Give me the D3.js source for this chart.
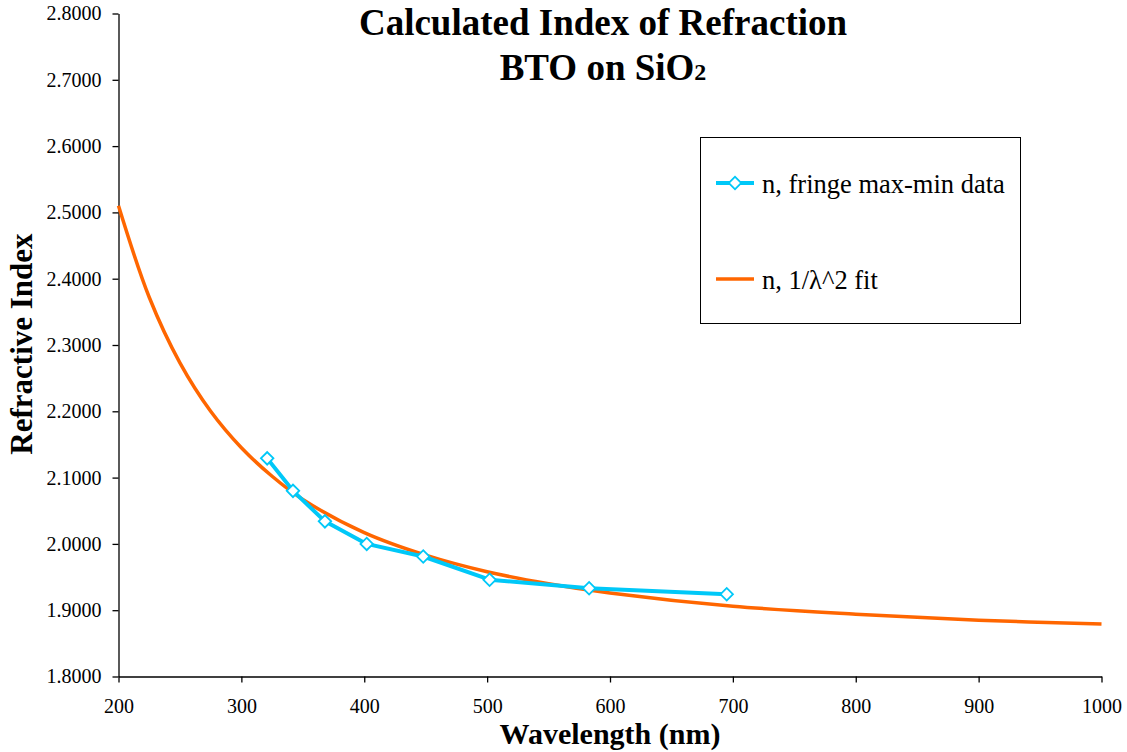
<!DOCTYPE html>
<html>
<head>
<meta charset="utf-8">
<script src="https://cdn.jsdelivr.net/npm/d3@7"></script>
<style>
  html, body { margin: 0; padding: 0; background: #fff; }
  svg, svg text { font-family: "Liberation Serif", "Times New Roman", Times, "DejaVu Serif", serif !important; }
</style>
</head>
<body>
<svg id="chart" width="1127" height="752"></svg>
<script>
// Measured index from fringe maxima/minima
const measuredWavelength = [321, 342, 368, 402, 448, 502, 583, 695];
const measuredIndex = [2.129, 2.080, 2.034, 2.000, 1.981, 1.946, 1.933, 1.924];

// Cauchy-type 1/λ² fit, sampled along the curve
const fitWavelength = [200, 225, 250, 275, 300, 325, 350, 400, 450, 500, 550, 600, 700, 800, 900, 1000];
const fitIndex = [2.510, 2.372, 2.273, 2.200, 2.145, 2.102, 2.067, 2.017, 1.983, 1.958, 1.940, 1.926, 1.906, 1.894, 1.885, 1.879];

const xTicks = [200, 300, 400, 500, 600, 700, 800, 900, 1000];
const yTicks = [1.8, 1.9, 2.0, 2.1, 2.2, 2.3, 2.4, 2.5, 2.6, 2.7, 2.8];

const titleLines = ["Calculated Index of Refraction", "BTO on SiO"];
const seriesNames = ["n, fringe max-min data", "n, 1/λ^2 fit"];

const colorData = "#00c8f8";
const colorFit = "#ff6600";

const svg = d3.select("#chart");
const plotLeft = 118.5, plotRight = 1101.5, plotTop = 13.5, plotBottom = 676.5;

const x = d3.scaleLinear().domain([200, 1000]).range([plotLeft, plotRight]);
const y = d3.scaleLinear().domain([1.8, 2.8]).range([plotBottom, plotTop]);

// Axes
const xAxis = d3.axisBottom(x).tickValues(xTicks).tickSize(6).tickSizeOuter(0).tickPadding(16)
  .tickFormat(d3.format("d"));
const yAxis = d3.axisLeft(y).tickValues(yTicks).tickSize(6).tickSizeOuter(0).tickPadding(11)
  .tickFormat(d3.format(".4f"));

const gx = svg.append("g").attr("transform", `translate(0,${plotBottom})`).call(xAxis);
const gy = svg.append("g").attr("transform", `translate(${plotLeft},0)`).call(yAxis);
[gx, gy].forEach(g => {
  g.attr("font-family", null);
  g.selectAll("path, line").attr("stroke", "#000").attr("stroke-width", 1.3);
  g.selectAll("text").attr("font-size", 20).attr("fill", "#000");
});

// Fit curve
const fitPts = fitWavelength.map((w, i) => [w, fitIndex[i]]);
svg.append("path")
  .datum(fitPts)
  .attr("fill", "none")
  .attr("stroke", colorFit)
  .attr("stroke-width", 3.5)
  .attr("d", d3.line().x(d => x(d[0])).y(d => y(d[1])).curve(d3.curveCatmullRom.alpha(0.5)));

// Measured data line + markers
const dataPts = measuredWavelength.map((w, i) => [w, measuredIndex[i]]);
svg.append("path")
  .datum(dataPts)
  .attr("fill", "none")
  .attr("stroke", colorData)
  .attr("stroke-width", 4)
  .attr("stroke-linejoin", "round")
  .attr("d", d3.line().x(d => x(d[0])).y(d => y(d[1])));

const marker = d3.symbol().type(d3.symbolSquare).size(78);
svg.append("g").selectAll("path")
  .data(dataPts)
  .join("path")
  .attr("transform", d => `translate(${x(d[0])},${y(d[1])}) rotate(45)`)
  .attr("d", marker)
  .attr("fill", "#fff")
  .attr("stroke", colorData)
  .attr("stroke-width", 1.8);

// Title
const title = svg.append("g").attr("font-weight", "bold").attr("font-size", 37).attr("text-anchor", "middle");
title.append("text").attr("x", 603).attr("y", 35).text(titleLines[0]);
const t2 = title.append("text").attr("x", 603).attr("y", 80);
t2.append("tspan").text(titleLines[1]);
t2.append("tspan").attr("font-size", 24).text("2");

// Axis titles
svg.append("text")
  .attr("x", 610).attr("y", 744)
  .attr("text-anchor", "middle")
  .attr("font-weight", "bold").attr("font-size", 30)
  .text("Wavelength (nm)");
svg.append("text")
  .attr("transform", "translate(32,344) rotate(-90)")
  .attr("text-anchor", "middle")
  .attr("font-weight", "bold").attr("font-size", 31)
  .text("Refractive Index");

// Legend
const legend = svg.append("g");
legend.append("rect")
  .attr("x", 700.5).attr("y", 137.5).attr("width", 320).attr("height", 186)
  .attr("fill", "#fff").attr("stroke", "#000").attr("stroke-width", 1);
legend.append("line").attr("x1", 716).attr("x2", 754).attr("y1", 183).attr("y2", 183)
  .attr("stroke", colorData).attr("stroke-width", 4);
legend.append("path")
  .attr("transform", "translate(735,183) rotate(45)")
  .attr("d", marker)
  .attr("fill", "#fff").attr("stroke", colorData).attr("stroke-width", 1.8);
legend.append("line").attr("x1", 716).attr("x2", 754).attr("y1", 279).attr("y2", 279)
  .attr("stroke", colorFit).attr("stroke-width", 3.5);
legend.selectAll("text.lbl")
  .data(seriesNames)
  .join("text")
  .attr("class", "lbl")
  .attr("x", 762)
  .attr("y", (d, i) => [193, 289][i])
  .attr("font-size", 26.5)
  .text(d => d);
</script>
</body>
</html>
